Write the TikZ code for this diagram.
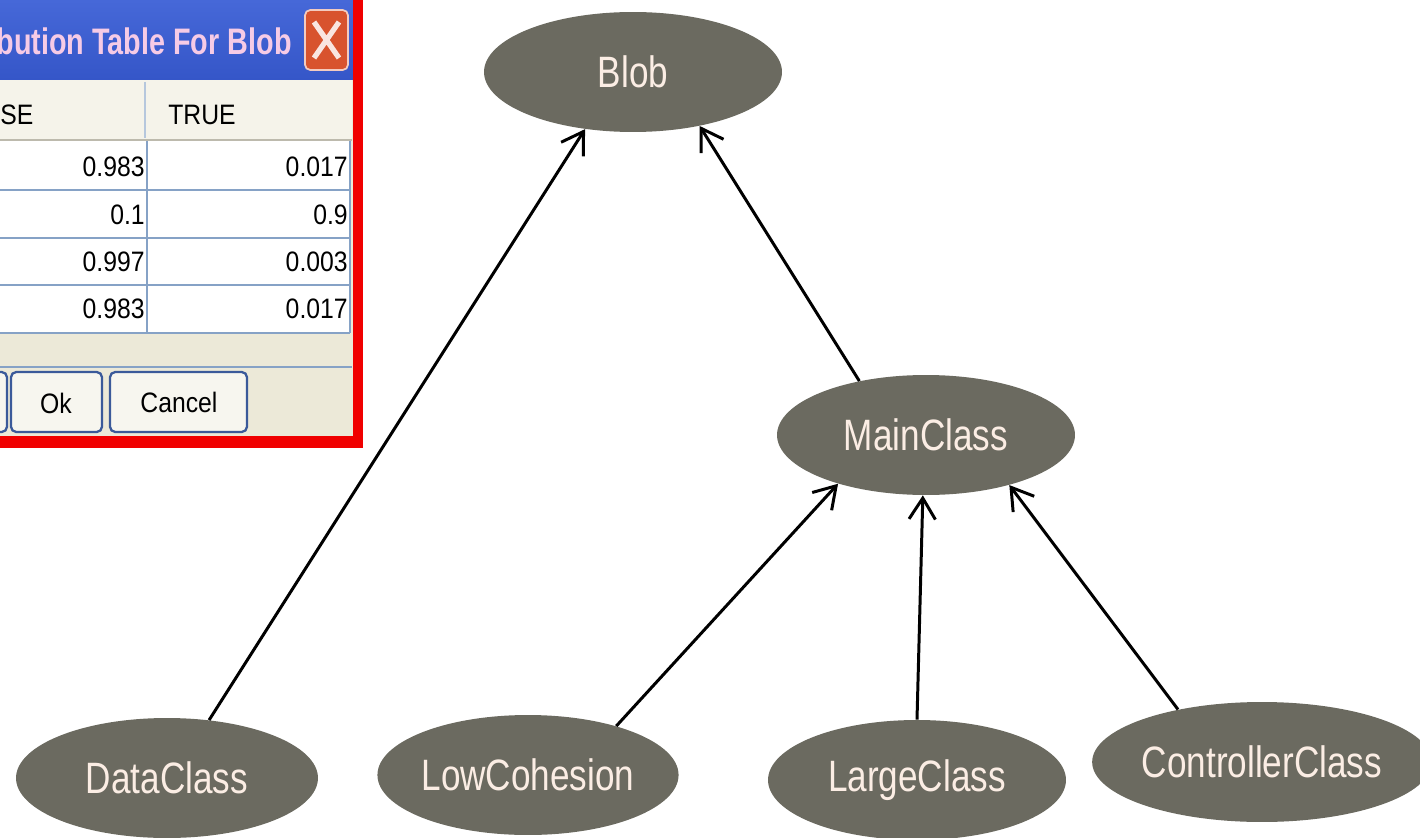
\documentclass[tikz,border=0pt]{standalone}
\usepackage{fontspec}
\setmainfont{Liberation Sans}
\newfontfamily\nodefont[FakeStretch=0.8]{Liberation Sans}
\newfontfamily\dlgfont[FakeStretch=0.88]{Liberation Sans}
\newfontfamily\titlefont[FakeStretch=0.78]{Liberation Sans}
\usetikzlibrary{shapes.geometric,arrows.meta}
\definecolor{nodegray}{HTML}{6B6A60}
\definecolor{nodetext}{HTML}{FBEDE4}
\definecolor{xpblue}{HTML}{3556C8}
\definecolor{xpblueTop}{HTML}{4668D8}
\definecolor{xpbeige}{HTML}{ECE9D8}
\definecolor{gridblue}{HTML}{86A2C6}
\definecolor{btnblue}{HTML}{3B5A9A}
\definecolor{titlepink}{HTML}{F6CBE6}
\definecolor{closered}{HTML}{D8532E}
\definecolor{framered}{HTML}{F00000}
\tikzset{
  bnode/.style={ellipse, fill=nodegray, text=nodetext, minimum width=5.96cm, minimum height=2.4cm, inner sep=0pt, font=\nodefont\fontsize{25}{28}\selectfont},
  link/.style={line width=1.7pt, black, -{Straight Barb[length=12pt,width=15pt,line width=1.7pt]}},
  cell/.style={inner sep=0pt, font=\dlgfont\fontsize{16}{18}\selectfont},
  btn/.style={draw=btnblue, line width=1.3pt, rounded corners=3pt, fill=white!60!xpbeige},
}
\begin{document}
\begin{tikzpicture}[x=0.02cm,y=-0.02cm]
\useasboundingbox (0,0) rectangle (1420,838);
% ---------- dialog ----------
\begin{scope}
\clip (0,0) rectangle (353,436);
\fill[xpbeige] (0,0) rectangle (353,436);
\shade[top color=xpblueTop, bottom color=xpblue] (0,0) rectangle (353,80);
\node[anchor=base east, text=titlepink, inner sep=0pt, font=\titlefont\bfseries\fontsize{21}{24}\selectfont] (title) at (292,55) {bution Table For Blob};
\draw[fill=closered, draw=white!70!closered, line width=1pt, rounded corners=3pt] (305,10) rectangle (348,70);
\draw[white!85!closered, line width=3pt] (314,22) -- (339,58) (339,22) -- (314,58);
% header
\fill[white!45!xpbeige] (0,80) rectangle (352,140);
\draw[gridblue!60, line width=0.6pt] (145,82) -- (145,138);
\draw[xpbeige!80!black, line width=1pt] (0,140) -- (352,140);
\node[cell, anchor=base west] (hfalse) at (0,125) {SE};
\node[cell, anchor=base west] (htrue) at (168,125) {TRUE};
% body
\fill[white] (0,141) rectangle (350,333);
\foreach \yy in {190,238,285,333}{\draw[gridblue, line width=1pt] (0,\yy) -- (350,\yy);}
\draw[gridblue, line width=1pt] (147,141) -- (147,333);
\draw[gridblue, line width=1pt] (350,141) -- (350,333);
\node[cell, anchor=base east] (a1) at (145,176) {0.983};
\node[cell, anchor=base east] (b1) at (348,176) {0.017};
\node[cell, anchor=base east] (a2) at (145,224) {0.1};
\node[cell, anchor=base east] (b2) at (348,224) {0.9};
\node[cell, anchor=base east] (a3) at (145,271) {0.997};
\node[cell, anchor=base east] (b3) at (348,271) {0.003};
\node[cell, anchor=base east] (a4) at (145,318) {0.983};
\node[cell, anchor=base east] (b4) at (348,318) {0.017};
% footer
\draw[gridblue, line width=1pt] (0,367) -- (352,367);
\draw[btn] (-30,372) rectangle (7,432);
\draw[btn] (11,372) rectangle (102,432);
\draw[btn] (110,372) rectangle (247,432);
\node[cell] (ok) at (56,403) {Ok};
\node[cell] (cancel) at (179,402) {Cancel};
\end{scope}
\fill[framered] (353,0) rectangle (363,448);
\fill[framered] (0,436) rectangle (363,448);
% ---------- graph ----------
\node[bnode] (Blob) at (633,72) {Blob};
\node[bnode] (MainClass) at (926,435) {MainClass};
\node[bnode, minimum width=6.04cm] (DataClass) at (167,778) {DataClass};
\node[bnode] (LowCohesion) at (528,775) {LowCohesion};
\node[bnode] (LargeClass) at (917,780) {LargeClass};
\node[bnode] (ControllerClass) at (1262,762) {ControllerClass};
\draw[link] (DataClass.54) -- (Blob.230);
\draw[link] (MainClass.141) -- (Blob.321);
\draw[link] (LowCohesion.29) -- (MainClass.209);
\draw[link] (LargeClass.north) -- (MainClass.267);
\draw[link] (ControllerClass.148) -- (MainClass.329);
\end{tikzpicture}
\end{document}
